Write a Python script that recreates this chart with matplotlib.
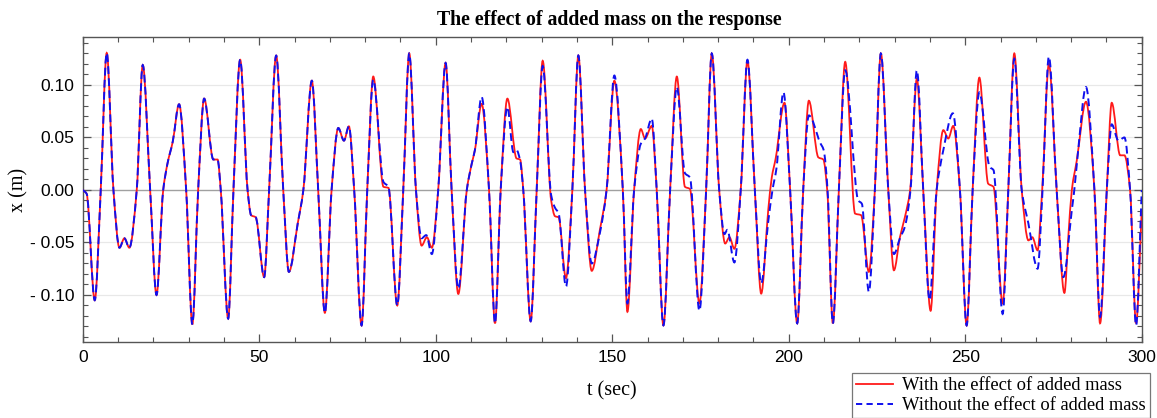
import numpy as np
import matplotlib
matplotlib.use("Agg")
import matplotlib.pyplot as plt
from matplotlib.path import Path
from matplotlib.patches import PathPatch
from matplotlib.lines import Line2D
from matplotlib.ticker import MultipleLocator, FuncFormatter

# ---- data ----
t_with = [0.0, 1.1, 3.4, 5.1, 6.8, 8.7, 10.4, 11.8, 13.2, 15.3, 17.0, 19.1, 20.9, 22.8, 24.0, 25.5,
          27.3, 29.3, 31.05, 32.7, 34.4, 37.0, 38.2, 39.1, 41.2, 42.7, 44.6, 46.7, 47.7, 49.0, 51.4,
          52.8, 54.8, 56.8, 58.4, 60.9, 62.5, 64.9, 66.7, 68.6, 70.5, 72.4, 74.0, 75.4, 76.9, 79.0,
          80.6, 82.3, 85.2, 86.6, 89.1, 90.8, 92.5, 94.4, 96.0, 97.5, 98.9, 100.7, 102.8, 104.5,
          106.4, 108.8, 110.2, 111.1, 113.0, 115.1, 116.8, 118.4, 120.3, 122.9, 123.9, 124.8, 126.9,
          128.6, 130.3, 132.7, 133.8, 134.8, 136.9, 138.7, 140.4, 142.3, 144.2, 146.5, 148.4, 150.6,
          153.0, 154.3, 156.2, 158.1, 159.3, 161.2, 162.6, 164.5, 166.4, 168.3, 170.6, 172.0, 174.7,
          176.6, 178.2, 180.3, 182.0, 183.2, 184.6, 186.4, 188.3, 190.4, 192.2, 194.2, 195.2, 196.3,
          198.8, 200.4, 202.4, 204.1, 205.7, 208.4, 209.8, 210.9, 212.5, 214.2, 216.0, 218.8, 220.5,
          222.7, 224.4, 226.1, 228.2, 229.8, 231.5, 232.9, 234.4, 236.3, 238.1, 240.2, 241.9, 243.8,
          245.2, 246.6, 248.5, 250.4, 252.1, 254.0, 256.5, 258.0, 260.6, 262.2, 263.9, 266.0, 267.9,
          269.0, 270.5, 271.8, 273.7, 275.9, 278.1, 279.2, 280.2, 281.6, 284.2, 286.6, 288.2, 290.1,
          291.5, 293.9, 295.1, 296.7, 298.4, 300.0]
x_with = [0.0, -0.0035, -0.105, 0.0, 0.1305, 0.0, -0.055, -0.046, -0.055, 0.0, 0.119, 0.0, -0.100, 0.0,
          0.025, 0.046, 0.0816, 0.0, -0.128, 0.0, 0.087, 0.029, 0.029, 0.0, -0.1225, 0.0, 0.124, 0.0,
          -0.024, -0.026, -0.083, 0.0, 0.128, 0.0, -0.078, -0.032, 0.0, 0.104, 0.0, -0.117, 0.0, 0.059,
          0.047, 0.0606, 0.0, -0.129, 0.0, 0.108, 0.003, 0.002, -0.110, 0.0, 0.130, 0.0, -0.053, -0.045,
          -0.055, 0.0, 0.121, 0.0, -0.099, 0.0, 0.025, 0.038, 0.082, 0.0, -0.127, 0.0, 0.087, 0.030,
          0.029, 0.0, -0.125, 0.0, 0.123, -0.010, -0.025, -0.026, -0.084, 0.0, 0.128, 0.0, -0.077,
          -0.038, 0.0, 0.104, 0.0, -0.116, 0.0, 0.058, 0.049, 0.061, 0.0, -0.129, 0.0, 0.108, 0.003,
          0.001, -0.108, 0.0, 0.130, 0.0, -0.051, -0.045, -0.056, 0.0, 0.123, 0.0, -0.0987, -0.019,
          0.012, 0.030, 0.083, 0.0, -0.127, 0.0, 0.085, 0.031, 0.029, 0.0, -0.127, 0.0, 0.122, -0.0225,
          -0.024, -0.078, 0.0, 0.130, 0.0, -0.0765, -0.045, -0.026, 0.0, 0.106, 0.0, -0.115, 0.0, 0.057,
          0.049, 0.061, 0.0, -0.129, 0.0, 0.107, 0.006, 0.003, -0.108, 0.0, 0.130, 0.0, -0.048, -0.045,
          -0.0575, 0.0, 0.120, 0.0, -0.098, -0.045, 0.0, 0.028, 0.084, 0.0, -0.127, 0.0, 0.083, 0.033,
          0.033, 0.0, -0.127, -0.02]

t_without = [0.0, 1.1, 3.4, 5.1, 6.8, 8.7, 10.4, 11.8, 13.2, 15.3, 17.0, 19.1, 20.9, 22.8, 24.0, 25.5,
             27.3, 29.3, 31.05, 32.7, 34.4, 37.0, 38.2, 39.1, 41.2, 42.7, 44.6, 46.7, 47.7, 49.0, 51.4,
             52.8, 54.8, 56.8, 58.4, 60.9, 62.5, 64.9, 66.7, 68.6, 70.5, 72.4, 74.0, 75.4, 76.9, 79.0,
             80.6, 82.3, 85.2, 86.6, 89.1, 90.8, 92.5, 94.4, 96.0, 97.3, 98.9, 100.7, 102.8, 104.5,
             106.4, 108.8, 110.2, 111.1, 113.0, 115.1, 116.8, 118.4, 120.3, 122.0, 122.9, 123.9, 124.8,
             126.9, 128.6, 130.3, 132.7, 133.8, 134.8, 136.9, 138.7, 140.4, 142.3, 144.2, 146.5, 148.4,
             150.6, 153.0, 154.3, 156.2, 158.1, 159.3, 161.2, 162.6, 164.5, 166.4, 168.3, 170.6, 172.0,
             174.7, 176.6, 178.2, 180.3, 181.8, 182.6, 184.6, 186.4, 188.3, 190.4, 192.2, 194.2, 195.4,
             196.5, 198.5, 200.4, 202.4, 204.1, 205.7, 208.9, 209.9, 211.0, 212.5, 214.2, 216.0, 219.7,
             220.7, 222.7, 224.4, 226.1, 228.2, 229.8, 231.5, 232.9, 234.5, 236.3, 238.1, 239.9, 241.9,
             243.8, 246.5, 248.5, 250.4, 252.1, 254.0, 256.9, 258.0, 260.6, 262.2, 263.9, 266.0, 267.9,
             270.5, 271.9, 273.7, 275.9, 277.8, 280.2, 280.9, 282.0, 284.2, 286.6, 288.2, 290.1, 291.5,
             293.4, 295.1, 296.7, 298.4, 300.0]
x_without = [0.0, -0.0035, -0.105, 0.0, 0.1305, 0.0, -0.055, -0.046, -0.055, 0.0, 0.119, 0.0, -0.100,
             0.0, 0.025, 0.046, 0.0816, 0.0, -0.128, 0.0, 0.087, 0.029, 0.029, 0.0, -0.1225, 0.0, 0.124,
             0.0, -0.024, -0.026, -0.083, 0.0, 0.128, 0.0, -0.078, -0.032, 0.0, 0.104, 0.0, -0.117, 0.0,
             0.059, 0.047, 0.0606, 0.0, -0.129, 0.0, 0.105, 0.0076, 0.003, -0.110, 0.0, 0.130, 0.0,
             -0.046, -0.043, -0.061, 0.0, 0.121, 0.0, -0.094, 0.0, 0.025, 0.038, 0.0886, 0.0, -0.127,
             0.0, 0.079, 0.036, 0.038, 0.028, 0.0, -0.125, 0.0, 0.118, -0.005, -0.017, -0.022, -0.092,
             0.0, 0.128, 0.0, -0.070, -0.041, 0.0, 0.109, 0.0, -0.108, 0.0, 0.044, 0.049, 0.068, 0.0,
             -0.129, 0.0, 0.098, 0.016, 0.012, -0.115, 0.0, 0.130, 0.0, -0.042, -0.038, -0.069, 0.0,
             0.124, 0.0, -0.089, -0.030, 0.0, 0.020, 0.093, 0.0, -0.127, 0.0, 0.071, 0.045, 0.038, 0.0,
             -0.127, 0.0, 0.114, -0.010, -0.013, -0.097, 0.0, 0.130, 0.0, -0.061, -0.046, -0.035, 0.0,
             0.114, 0.0, -0.105, 0.0, 0.038, 0.073, 0.0, -0.129, 0.0, 0.093, 0.022, 0.019, -0.118, 0.0,
             0.125, 0.0, -0.032, -0.075, 0.0, 0.127, 0.0, -0.083, -0.019, 0.0, 0.038, 0.098, 0.0,
             -0.121, 0.0, 0.0625, 0.047, 0.050, 0.0, -0.129, 0.0]

labels = ["With the effect of added mass", "Without the effect of added mass"]
title = "The effect of added mass on the response"
xlabel = "t (sec)"
ylabel = "x (m)"
y_major = [-0.10, -0.05, 0.0, 0.05, 0.10]
x_major = [0, 50, 100, 150, 200, 250, 300]


def smooth_path(t, y):
    """Monotone cubic Hermite curve through the read points, as Bezier segments."""
    t = np.asarray(t, float)
    y = np.asarray(y, float)
    h = np.diff(t)
    d = np.diff(y) / h
    m = np.zeros_like(y)
    for i in range(1, len(y) - 1):
        if d[i - 1] * d[i] > 0:
            w1 = 2 * h[i] + h[i - 1]
            w2 = h[i] + 2 * h[i - 1]
            m[i] = (w1 + w2) / (w1 / d[i - 1] + w2 / d[i])
    m[0] = d[0]
    m[-1] = d[-1]
    verts = [(t[0], y[0])]
    codes = [Path.MOVETO]
    for i in range(len(h)):
        verts += [(t[i] + h[i] / 3, y[i] + m[i] * h[i] / 3),
                  (t[i + 1] - h[i] / 3, y[i + 1] - m[i + 1] * h[i] / 3),
                  (t[i + 1], y[i + 1])]
        codes += [Path.CURVE4] * 3
    return Path(verts, codes)


serif = ["Liberation Serif", "DejaVu Serif"]
sans = ["Liberation Sans", "DejaVu Sans"]

fig = plt.figure(figsize=(11.57, 4.18), dpi=100)
ax = fig.add_axes([0.0715, 0.183, 0.9153, 0.7273])

ax.set_xlim(0, 300)
ax.set_ylim(-0.1443, 0.1452)

# grid
for v in y_major:
    if v == 0:
        ax.axhline(v, color="#a0a0a0", lw=1.0, zorder=1)
    else:
        ax.axhline(v, color="#e8e8e8", lw=0.9, zorder=1)

red_color = "#ff1a1a"
blue_color = "#1010ee"
ax.add_patch(PathPatch(smooth_path(t_with, x_with), fill=False, edgecolor=red_color,
                       lw=1.3, zorder=3, transform=ax.transData))
ax.add_patch(PathPatch(smooth_path(t_without, x_without), fill=False, edgecolor=blue_color,
                       lw=1.4, linestyle=(0, (4, 2.2)), zorder=4, transform=ax.transData))

ax.xaxis.set_major_locator(MultipleLocator(50))
ax.xaxis.set_minor_locator(MultipleLocator(10))
ax.set_yticks(y_major)
ax.yaxis.set_minor_locator(MultipleLocator(0.01))


def yfmt(v, pos):
    if abs(v) < 1e-9:
        return "0.00"
    return f"- {abs(v):.2f}" if v < 0 else f"{v:.2f}"


ax.yaxis.set_major_formatter(FuncFormatter(yfmt))
ax.tick_params(which="both", direction="in", top=True, right=True, color="#555555")
ax.tick_params(which="major", length=6, width=0.9, labelsize=12.5, pad=6)
ax.tick_params(which="minor", length=3.5, width=0.8)
for lab in ax.get_xticklabels() + ax.get_yticklabels():
    lab.set_fontfamily(sans)
for s in ax.spines.values():
    s.set_color("#555555")
    s.set_linewidth(1.0)

ax.set_xlabel(xlabel, fontfamily=serif, fontsize=14.5, labelpad=12)
ax.set_ylabel(ylabel, fontfamily=serif, fontsize=14.5, labelpad=1)
fig.text(0.527, 0.953, title, fontfamily=serif, fontsize=14.3, fontweight="bold",
         ha="center", va="center")

handles = [Line2D([], [], color=red_color, lw=1.3),
           Line2D([], [], color=blue_color, lw=1.4, linestyle=(0, (3.2, 2.2)))]
leg = fig.legend(handles, labels, loc="upper left", bbox_to_anchor=(852 / 1157, 1 - 373 / 418),
                 prop={"family": serif, "size": 13.3}, frameon=True, fancybox=False,
                 edgecolor="#555555", borderpad=0.22, labelspacing=0.18, handlelength=2.0,
                 handletextpad=0.5, borderaxespad=0.0)
leg.get_frame().set_linewidth(0.9)

fig.savefig("out.png", dpi=100)
